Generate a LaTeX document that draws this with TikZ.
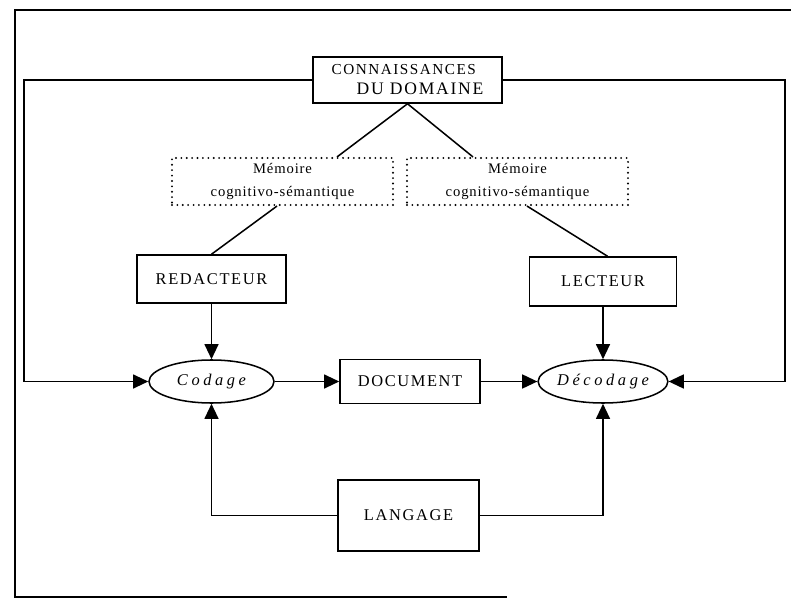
\documentclass[tikz,border=0pt]{standalone}
\usepackage{fontspec}
\setmainfont{Liberation Serif}
\usepackage{tikz}
\usetikzlibrary{arrows.meta}
\usetikzlibrary{calc}
\usetikzlibrary{shapes.geometric}
\newcommand{\lettres}[1]{\addfontfeatures{LetterSpace=#1}}

\begin{document}
\begin{tikzpicture}[x=0.03cm,y=-0.03cm,line width=1.3pt,
		cadre/.style={draw,rectangle,inner sep=0pt,font=\fontsize{14}{16}\selectfont\lettres{10}},
		memoire/.style={draw,rectangle,inner sep=0pt,dash pattern=on 0pt off 4.6pt,line cap=round,line width=1.8pt,
			minimum width=6.63cm,minimum height=1.41cm,align=center,font=\fontsize{12.5}{19.5}\selectfont\lettres{6}},
		operation/.style={draw,ellipse,inner sep=0pt,minimum width=3.75cm,minimum height=1.29cm,
			font=\fontsize{14}{16}\selectfont\itshape\lettres{22}},
		fleche/.style={-{Triangle[length=13pt,width=12pt]}}]
	\useasboundingbox (0,0) rectangle (791,599);
	% cadre
	\draw (791,10) -- (15,10) -- (15,597) -- (507,597);
	% noeuds
	\node[cadre,minimum width=5.67cm,minimum height=1.38cm,align=left] (domaine) at (407.5,80)
		{\fontsize{13}{19.5}\selectfont CONNAISSANCES\\[1pt]\hspace*{0.75cm}\fontsize{15}{19.5}\selectfont DU DOMAINE};
	\foreach \nom/\x in {memred/282.5, memlec/517.5} {
		\node[memoire] (\nom) at (\x,181.5) {Mémoire\\cognitivo-sémantique};
	}
	\node[cadre,minimum width=4.47cm,minimum height=1.44cm] (redacteur) at (211.5,279) {REDACTEUR};
	\node[cadre,minimum width=4.41cm,minimum height=1.47cm] (lecteur) at (603,281.5) {LECTEUR};
	\node[operation] (codage) at (211.5,381.5) {Codage};
	\node[operation] (decodage) at (603,381.5) {Décodage};
	\node[cadre,minimum width=4.2cm,minimum height=1.32cm] (document) at (410,381.5) {DOCUMENT};
	\node[cadre,minimum width=4.23cm,minimum height=2.13cm] (langage) at (408.5,515.5) {LANGAGE};
	% liaisons
	\draw (domaine.south) -- ($(memred.north)+(54.5,0)$);
	\draw (domaine.south) -- ($(memlec.north)+(-44.5,0)$);
	\draw ($(memred.south)+(-5.5,0)$) -- (redacteur.north);
	\draw ($(memlec.south)+(9.5,0)$) -- ($(lecteur.north)+(4.5,0)$);
	\draw[fleche] (redacteur) -- (codage);
	\draw[fleche] (lecteur) -- (decodage);
	\draw[fleche] (codage) -- (document);
	\draw[fleche] (document) -- (decodage);
	\draw[fleche] (langage.west) -| (codage.south);
	\draw[fleche] (langage.east) -| (decodage.south);
	% boucles
	\coordinate (boucleg) at (24,0);
	\coordinate (boucled) at (785,0);
	\draw[fleche] (domaine.west) -- (domaine.west -| boucleg) |- (codage.west);
	\draw[fleche] (domaine.east) -- (domaine.east -| boucled) |- (decodage.east);
\end{tikzpicture}
\end{document}
